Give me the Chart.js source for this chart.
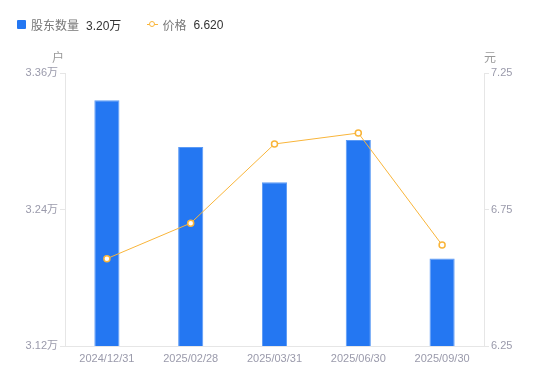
<!DOCTYPE html>
<html lang="zh">
<head>
    <meta charset="UTF-8">
    <title>股东数量与价格</title>
    <script src="https://cdn.jsdelivr.net/npm/chart.js"></script>
    <style>
        body { margin: 0; background: #fff; font-family: "Liberation Sans", Arial, "Noto Sans CJK SC", sans-serif; }
        .wrap { position: relative; width: 550px; height: 381px; }
        .legend { position: absolute; left: 17px; top: 16px; display: flex; align-items: center; font-size: 12px; }
        .legend .item { display: flex; align-items: center; margin-right: 26px; }
        .legend .sq { width: 9px; height: 9px; background: #2477f2; border-radius: 1px; margin-right: 5px; }
        .legend .ln { position: relative; width: 11px; height: 9px; margin-right: 4px; }
        .legend .ln:before { content: ""; position: absolute; left: 0; right: 0; top: 4px; height: 1px; background: #f9b53a; }
        .legend .ln:after { content: ""; position: absolute; left: 2px; top: 1px; width: 4px; height: 4px; border: 1.5px solid #f9b53a; border-radius: 50%; background: #fff; }
        .legend .name { color: #777; margin-right: 7px; }
        .legend .val { color: #333; }
        canvas { position: absolute; left: 0; top: 0; }
    </style>
</head>
<body>
<div class="wrap">
    <canvas id="chart" width="550" height="381"></canvas>
    <div class="legend">
        <div class="item"><span class="sq"></span><span class="name">股东数量</span><span class="val">3.20万</span></div>
        <div class="item"><span class="ln"></span><span class="name">价格</span><span class="val">6.620</span></div>
    </div>
</div>
<script>
    // data
    const dates = ['2024/12/31', '2025/02/28', '2025/03/31', '2025/06/30', '2025/09/30'];
    const holders = [3.336, 3.295, 3.264, 3.301, 3.197]; // 万户
    const prices = [6.57, 6.70, 6.99, 7.03, 6.62];
    const holderTicks = [3.12, 3.24, 3.36];
    const priceTicks = [6.25, 6.75, 7.25];

    const tickColor = '#9a9aab';
    const lineColor = '#e6e6e6';
    const fontFamily = '"Liberation Sans", Arial, "Noto Sans CJK SC", sans-serif';

    // unit labels above the two y axes
    const unitLabels = {
        id: 'unitLabels',
        afterDraw(chart) {
            const c = chart.ctx;
            const a = chart.chartArea;
            c.save();
            c.font = '12px ' + fontFamily;
            c.fillStyle = '#999';
            c.textAlign = 'center';
            c.textBaseline = 'middle';
            c.fillText('户', a.left - 7, a.top - 14);
            c.fillText('元', a.right + 6, a.top - 14);
            c.restore();
        }
    };

    new Chart(document.getElementById('chart'), {
        data: {
            labels: dates,
            datasets: [
                {
                    type: 'line',
                    label: '价格',
                    data: prices,
                    yAxisID: 'yPrice',
                    borderColor: '#f9b53a',
                    borderWidth: 1,
                    pointRadius: 3,
                    pointBorderWidth: 1.5,
                    pointBackgroundColor: '#fff',
                    pointBorderColor: '#f9b53a',
                    tension: 0,
                    order: 0
                },
                {
                    type: 'bar',
                    label: '股东数量',
                    data: holders,
                    yAxisID: 'yHolders',
                    backgroundColor: '#2477f2',
                    borderColor: '#5b9af5',
                    borderWidth: { top: 1, left: 1, right: 1, bottom: 0 },
                    barPercentage: 0.3,
                    categoryPercentage: 1,
                    order: 1
                }
            ]
        },
        options: {
            responsive: false,
            animation: false,
            layout: { padding: { top: 73, left: 0, right: 0, bottom: 0 } },
            plugins: {
                legend: { display: false },
                tooltip: { enabled: false }
            },
            scales: {
                x: {
                    grid: { display: false },
                    border: { color: lineColor },
                    ticks: { color: tickColor, font: { size: 11, family: fontFamily }, padding: -2, maxRotation: 0 },
                    afterFit(s) { s.height = 35; }
                },
                yHolders: {
                    position: 'left',
                    min: 3.12,
                    max: 3.36,
                    afterBuildTicks(s) { s.ticks = holderTicks.map(v => ({ value: v })); },
                    grid: { drawOnChartArea: false, tickLength: 5, color: lineColor },
                    border: { color: lineColor },
                    ticks: {
                        color: tickColor,
                        font: { size: 11, family: fontFamily },
                        padding: 2,
                        callback: v => v.toFixed(2) + '万'
                    },
                    afterFit(s) { s.width = 65; }
                },
                yPrice: {
                    position: 'right',
                    min: 6.25,
                    max: 7.25,
                    afterBuildTicks(s) { s.ticks = priceTicks.map(v => ({ value: v })); },
                    grid: { drawOnChartArea: false, tickLength: 5, color: lineColor },
                    border: { color: lineColor },
                    ticks: {
                        color: tickColor,
                        font: { size: 11, family: fontFamily },
                        padding: 2,
                        callback: v => v.toFixed(2)
                    },
                    afterFit(s) { s.width = 66; }
                }
            }
        },
        plugins: [unitLabels]
    });
</script>
</body>
</html>
